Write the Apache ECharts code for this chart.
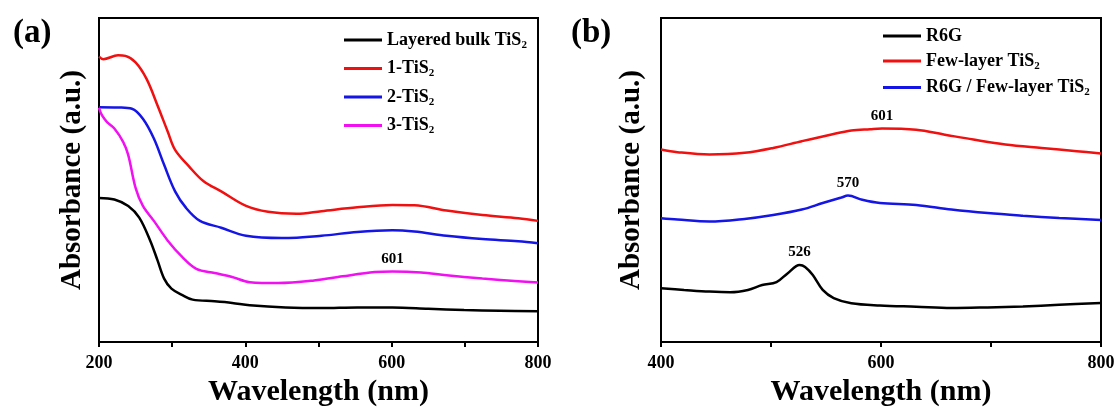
<!DOCTYPE html>
<html>
<head>
<meta charset="utf-8">
<script src="https://cdn.jsdelivr.net/npm/echarts@6/dist/echarts.min.js"></script>
<style>
    html, body { margin: 0; padding: 0; background: #fff; }
    #chart { width: 1118px; height: 412px; }
</style>
</head>
<body>
<div id="chart"></div>
<script>
    // panel (a): wavelength (nm) / absorbance (a.u., arbitrary scale 0-100)
    var bulkX = [200, 221, 240, 255, 270, 280, 289, 299, 314, 328, 358, 382, 406, 455, 504, 553, 601, 650, 699, 748, 800];
    var bulkY = [44.5, 44.0, 42.0, 38.4, 31.3, 25.2, 19.6, 16.5, 14.5, 13.1, 12.6, 12.1, 11.4, 10.7, 10.5, 10.7, 10.7, 10.3, 9.9, 9.7, 9.5];

    var ts1X = [200, 206, 226, 236, 250, 265, 280, 294, 304, 323, 343, 367, 401, 431, 470, 504, 553, 601, 631, 675, 724, 773, 800];
    var ts1Y = [88.1, 87.3, 88.5, 88.3, 86.3, 81.2, 73.0, 64.9, 59.3, 54.2, 49.6, 46.5, 42.0, 40.2, 39.6, 40.4, 41.6, 42.3, 42.2, 40.6, 39.2, 38.2, 37.4];

    var ts2X = [200, 226, 245, 260, 275, 289, 304, 319, 338, 367, 401, 450, 504, 553, 601, 631, 675, 724, 773, 800];
    var ts2Y = [72.5, 72.4, 72.0, 68.9, 62.8, 54.7, 46.5, 41.4, 37.4, 35.3, 32.8, 32.1, 32.8, 34.0, 34.5, 34.1, 32.8, 31.8, 31.1, 30.5];

    var ts3X = [200, 204, 211, 221, 233, 240, 250, 260, 275, 294, 314, 333, 358, 382, 406, 445, 494, 533, 577, 601, 640, 675, 724, 773, 800];
    var ts3Y = [72.3, 70.0, 67.9, 65.9, 61.8, 57.7, 47.6, 42.0, 37.4, 31.3, 26.2, 22.6, 21.3, 20.1, 18.5, 18.2, 19.0, 20.3, 21.6, 21.8, 21.5, 20.6, 19.6, 18.8, 18.4];

    // panel (b)
    var r6gX = [400, 421, 444, 463, 479, 492, 505, 515, 526, 531, 538, 547, 557, 573, 599, 632, 664, 697, 729, 762, 800];
    var r6gY = [16.6, 16.1, 15.6, 15.4, 16.1, 17.6, 18.5, 21.2, 23.8, 23.2, 20.7, 16.1, 13.6, 12.0, 11.3, 10.9, 10.5, 10.7, 11.0, 11.5, 12.1];

    var fewX = [400, 415, 444, 476, 502, 528, 554, 573, 590, 601, 632, 658, 684, 713, 746, 778, 800];
    var fewY = [59.4, 58.6, 57.9, 58.4, 59.9, 62.0, 64.0, 65.3, 65.7, 65.9, 65.5, 64.0, 62.5, 61.0, 59.9, 58.9, 58.2];

    var mixX = [400, 415, 444, 476, 502, 528, 547, 564, 570, 583, 599, 632, 664, 697, 729, 762, 800];
    var mixY = [38.2, 37.8, 37.2, 38.0, 39.2, 40.9, 42.9, 44.6, 45.2, 43.9, 42.9, 42.3, 40.9, 39.8, 39.0, 38.3, 37.7];

    var namesA = ['Layered bulk TiS2', '1-TiS2', '2-TiS2', '3-TiS2'];
    var namesB = ['R6G', 'Few-layer TiS2', 'R6G / Few-layer TiS2'];
    var peakLabelsA = [601];
    var peakLabelsB = [601, 570, 526];

    var FONT = '"Liberation Serif", "Times New Roman", serif';

    function pairs(xs, ys) {
        var out = [];
        for (var i = 0; i < xs.length; i++) {
            out.push([xs[i], ys[i]]);
        }
        return out;
    }

    function yAt(xs, ys, x) {
        for (var i = 0; i < xs.length; i++) {
            if (xs[i] === x) return ys[i];
        }
        return ys[0];
    }

    function subName(name) {
        return name.replace('TiS2', 'TiS{sub|2}');
    }

    var richSub = {
        sub: {
            fontFamily: FONT,
            fontWeight: 'bold',
            fontSize: 11,
            color: '#000',
            padding: [10, 0, 0, 0]
        }
    };

    function makeXAxis(gridIndex, min, max) {
        return {
            type: 'value',
            gridIndex: gridIndex,
            min: min,
            max: max,
            interval: 100,
            name: 'Wavelength (nm)',
            nameLocation: 'middle',
            nameGap: 34,
            nameTextStyle: { fontFamily: FONT, fontWeight: 'bold', fontSize: 30, color: '#000' },
            axisLine: { show: true, lineStyle: { color: '#000', width: 2 } },
            axisTick: { show: true, inside: false, length: 5, lineStyle: { color: '#000', width: 2 } },
            axisLabel: {
                color: '#000',
                fontFamily: FONT,
                fontWeight: 'bold',
                fontSize: 18,
                margin: 12,
                formatter: function (v) { return v % 200 === 0 ? String(v) : ''; }
            },
            splitLine: { show: false }
        };
    }

    function makeYAxis(gridIndex, gap) {
        return {
            type: 'value',
            gridIndex: gridIndex,
            min: 0,
            max: 100,
            name: 'Absorbance (a.u.)',
            nameLocation: 'middle',
            nameGap: gap,
            nameTextStyle: { fontFamily: FONT, fontWeight: 'bold', fontSize: 29, color: '#000' },
            axisLine: { show: true, lineStyle: { color: '#000', width: 2 } },
            axisTick: { show: false },
            axisLabel: { show: false },
            splitLine: { show: false }
        };
    }

    function makeLine(name, xIdx, xs, ys, color, peaks) {
        var s = {
            name: name,
            type: 'line',
            xAxisIndex: xIdx,
            yAxisIndex: xIdx,
            data: pairs(xs, ys),
            symbol: 'none',
            smooth: 0.35,
            lineStyle: { color: color, width: 2.5 },
            itemStyle: { color: color },
            z: 3
        };
        if (peaks) {
            s.markPoint = {
                symbol: 'circle',
                symbolSize: 0,
                label: {
                    show: true,
                    position: 'top',
                    distance: 5,
                    color: '#000',
                    fontFamily: FONT,
                    fontWeight: 'bold',
                    fontSize: 15,
                    formatter: function (p) { return String(p.data.nm); }
                },
                data: peaks.map(function (x) {
                    return { coord: [x, yAt(xs, ys, x)], nm: x };
                })
            };
        }
        return s;
    }

    function makeLegend(names, left, top, gap) {
        return {
            data: names,
            orient: 'vertical',
            left: left,
            top: top,
            itemWidth: 38,
            itemHeight: 3,
            itemGap: gap,
            icon: 'rect',
            formatter: subName,
            textStyle: {
                fontFamily: FONT,
                fontWeight: 'bold',
                fontSize: 18,
                color: '#000',
                rich: richSub
            }
        };
    }

    var chart = echarts.init(document.getElementById('chart'), null, { renderer: 'canvas' });

    chart.setOption({
        backgroundColor: '#fff',
        animation: false,
        grid: [
            { left: 99, top: 18, width: 439, height: 328, show: true, borderColor: '#000', borderWidth: 2 },
            { left: 661, top: 18, width: 440, height: 328, show: true, borderColor: '#000', borderWidth: 2 }
        ],
        xAxis: [makeXAxis(0, 200, 800), makeXAxis(1, 400, 800)],
        yAxis: [makeYAxis(0, 12), makeYAxis(1, 15)],
        legend: [
            makeLegend(namesA, 339, 26, 9),
            makeLegend(namesB, 878, 22, 7)
        ],
        title: [
            { text: '(a)', left: 8, top: 12, textStyle: { fontFamily: FONT, fontWeight: 'bold', fontSize: 33, color: '#000' } },
            { text: '(b)', left: 566, top: 12, textStyle: { fontFamily: FONT, fontWeight: 'bold', fontSize: 33, color: '#000' } }
        ],
        series: [
            makeLine(namesA[0], 0, bulkX, bulkY, '#000000'),
            makeLine(namesA[1], 0, ts1X, ts1Y, '#f01010'),
            makeLine(namesA[2], 0, ts2X, ts2Y, '#1515e6'),
            makeLine(namesA[3], 0, ts3X, ts3Y, '#f010f0', peakLabelsA),
            makeLine(namesB[0], 1, r6gX, r6gY, '#000000', [peakLabelsB[2]]),
            makeLine(namesB[1], 1, fewX, fewY, '#f01010', [peakLabelsB[0]]),
            makeLine(namesB[2], 1, mixX, mixY, '#1515e6', [peakLabelsB[1]])
        ]
    });
</script>
</body>
</html>
